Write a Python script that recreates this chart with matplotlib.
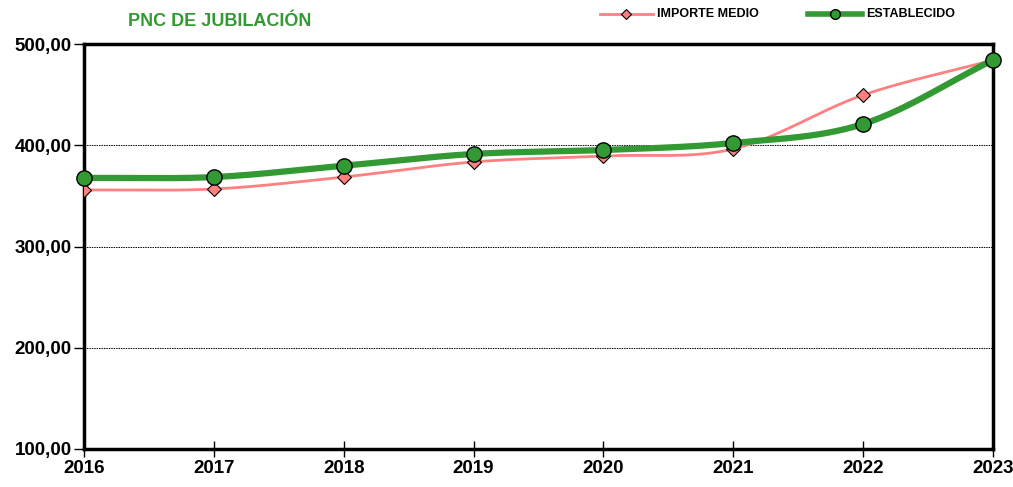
import matplotlib.pyplot as plt
import numpy as np
from matplotlib import font_manager

years = [2016, 2017, 2018, 2019, 2020, 2021, 2022, 2023]
importe_medio = [355.8, 356.8, 368.6, 383.5, 389.4, 396.3, 449.6, 484.0]
establecido = [367.7, 368.6, 379.8, 391.4, 395.3, 402.2, 421.0, 484.2]
yticks = [100, 200, 300, 400, 500]

names = {f.name for f in font_manager.fontManager.ttflist}
fam = 'Liberation Sans Narrow' if 'Liberation Sans Narrow' in names else 'Liberation Sans'
plt.rcParams['font.family'] = [fam, 'DejaVu Sans']


def smooth(x, y, n=30):
    # catmull-rom, like excel smoothed lines
    x = np.asarray(x, float)
    y = np.asarray(y, float)
    px = np.concatenate([[2 * x[0] - x[1]], x, [2 * x[-1] - x[-2]]])
    py = np.concatenate([[2 * y[0] - y[1]], y, [2 * y[-1] - y[-2]]])
    xs, ys = [], []
    t = np.linspace(0, 1, n)
    for i in range(1, len(px) - 2):
        for p, out in ((px, xs), (py, ys)):
            p0, p1, p2, p3 = p[i - 1], p[i], p[i + 1], p[i + 2]
            out.extend(0.5 * ((2 * p1) + (-p0 + p2) * t
                              + (2 * p0 - 5 * p1 + 4 * p2 - p3) * t ** 2
                              + (-p0 + 3 * p1 - 3 * p2 + p3) * t ** 3))
    return xs, ys


pink = '#FF8080'
green = '#339933'

fig = plt.figure(figsize=(10.13, 4.87), dpi=100)
ax = fig.add_axes([84 / 1013, 38 / 487, 909 / 1013, 405 / 487])

sx, sy = smooth(years, importe_medio)
ax.plot(sx, sy, color=pink, lw=2, zorder=3)
ax.plot(years, importe_medio, ls='none', marker='D', ms=7.5, mfc=pink, mec='black', mew=0.8, zorder=4)
sx, sy = smooth(years, establecido)
ax.plot(sx, sy, color=green, lw=4.5, zorder=5)
ax.plot(years, establecido, ls='none', marker='o', ms=11, mfc=green, mec='black', mew=1, zorder=6, clip_on=False)

ax.set_xlim(2016, 2023)
ax.set_ylim(100, 500)
ax.set_yticks(yticks)
ax.set_yticklabels([f'{v:.2f}'.replace('.', ',') for v in yticks])
ax.set_xticks(years)
for s in ax.spines.values():
    s.set_linewidth(2.5)
ax.tick_params(axis='y', direction='out', length=7, width=1, labelsize=13.5, pad=2)
ax.tick_params(axis='x', direction='inout', length=12, width=1, labelsize=13.5, pad=2)
for lab in ax.get_xticklabels() + ax.get_yticklabels():
    lab.set_fontweight('bold')
for v in [200, 300, 400]:
    ax.axhline(v, color='black', lw=0.7, ls=(0, (1.5, 1)), zorder=1)

fig.text(128 / 1013, 1 - 22 / 487, 'PNC DE JUBILACIÓN', color=green, fontsize=13,
         fontweight='bold', va='center')

# legend drawn by hand across the top
ly = 1 - 14 / 487
fig.add_artist(plt.Line2D([600 / 1013, 653 / 1013], [ly, ly], color=pink, lw=2))
fig.add_artist(plt.Line2D([626 / 1013], [ly], marker='D', ms=5, mfc=pink, mec='black', mew=0.8))
fig.text(657 / 1013, ly, 'IMPORTE MEDIO', fontsize=9, fontweight='bold', va='center')
fig.add_artist(plt.Line2D([808 / 1013, 862 / 1013], [ly, ly], color=green, lw=4))
fig.add_artist(plt.Line2D([835 / 1013], [ly], marker='o', ms=7, mfc=green, mec='black', mew=1))
fig.text(866 / 1013, ly, 'ESTABLECIDO', fontsize=9, fontweight='bold', va='center')

fig.savefig('out.png', dpi=100)
